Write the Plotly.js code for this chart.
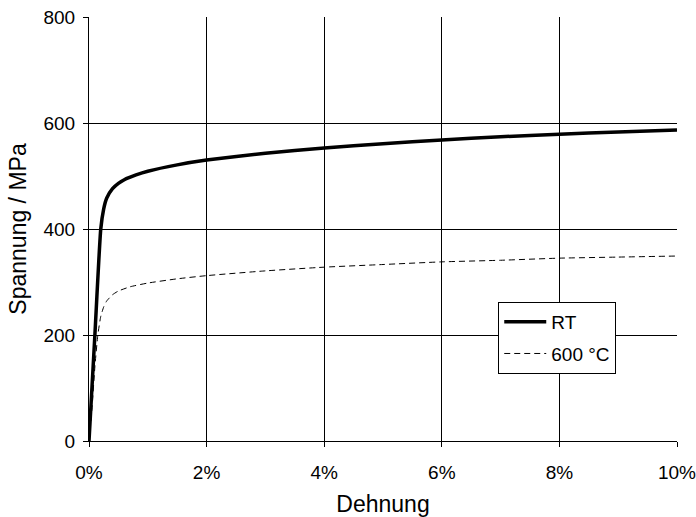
<!DOCTYPE html>
<html>
<head>
<meta charset="utf-8">
<script src="https://cdn.plot.ly/plotly-3.0.1.min.js"></script>
<style>html,body{margin:0;padding:0;background:#fff;}#chart{width:696px;height:517px;}</style>
</head>
<body>
<div id="chart"></div>
<script>
// Dehnung in %, Spannung in MPa
const strainRT = [0, 0.1, 0.2, 0.25, 0.3, 0.4, 0.5, 0.6, 0.8, 1.0, 1.5, 2, 3, 4, 5, 6, 7, 8, 9, 10];
const stressRT = [0, 200, 400, 438, 458, 476, 486, 493, 502, 509, 521, 530, 543, 553, 561, 568, 574, 579, 583, 587];
const strain600 = [0, 0.05, 0.1, 0.15, 0.2, 0.25, 0.3, 0.4, 0.5, 0.7, 1, 1.5, 2, 3, 4, 5, 6, 7, 8, 9, 10];
const stress600 = [0, 60, 140, 200, 235, 253, 264, 276, 283, 291, 298, 306, 312, 321, 328, 333, 338, 341, 345, 347, 349];
const xTicks = [0, 2, 4, 6, 8, 10];
const xTickText = ['0%', '2%', '4%', '6%', '8%', '10%'];
const yTicks = [0, 200, 400, 600, 800];

const traces = [
  {x: strainRT, y: stressRT, name: 'RT', legendgroup: 'a', mode: 'lines', line: {color: '#000', width: 3.5, shape: 'spline', smoothing: 0.5}},
  {x: strain600, y: stress600, name: '600 °C', legendgroup: 'b', mode: 'lines', line: {color: '#000', width: 1, dash: '6px,4px', shape: 'spline', smoothing: 0.5}}
];
const font = {family: 'Liberation Sans, Arial, sans-serif', color: '#000'};
const layout = {
  width: 696, height: 517,
  margin: {l: 89, r: 19, t: 17, b: 76},
  paper_bgcolor: '#fff', plot_bgcolor: '#fff',
  font: Object.assign({size: 19}, font),
  showlegend: true,
  legend: {x: 0.696, y: 0.328, xanchor: 'left', yanchor: 'top', bgcolor: '#fff', bordercolor: '#000', borderwidth: 1,
           font: Object.assign({size: 19}, font), tracegroupgap: 4, itemwidth: 42},
  xaxis: {range: [0, 10], tickvals: xTicks, ticktext: xTickText, showgrid: true, gridcolor: '#000', gridwidth: 1,
          showline: true, linecolor: '#000', linewidth: 1, ticks: 'outside', ticklen: 5, tickcolor: '#000',
          zeroline: false, tickfont: Object.assign({size: 19}, font), ticklabelstandoff: 9, ticklabeloverflow: 'allow',
          automargin: false,
          title: {text: 'Dehnung', font: Object.assign({size: 23}, font), standoff: 15}},
  yaxis: {range: [0, 800], tickvals: yTicks, showgrid: true, gridcolor: '#000', gridwidth: 1,
          showline: true, linecolor: '#000', linewidth: 1, ticks: 'outside', ticklen: 5, tickcolor: '#000',
          zeroline: false, tickfont: Object.assign({size: 19}, font), ticklabelstandoff: 4, automargin: false,
          title: {text: 'Spannung / MPa', font: Object.assign({size: 23}, font), standoff: 10}}
};
Plotly.newPlot('chart', traces, layout, {displayModeBar: false, staticPlot: true});
</script>
</body>
</html>
